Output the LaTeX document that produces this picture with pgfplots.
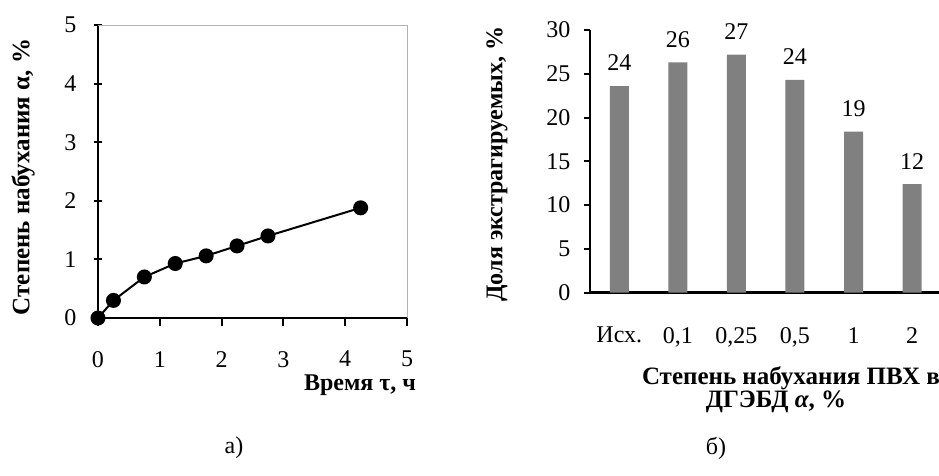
\documentclass[border=0pt]{standalone}
\usepackage{fontspec}
\setmainfont{Liberation Serif}
\usepackage{pgfplots}
\pgfplotsset{compat=1.18}
\begin{document}
\begin{tikzpicture}[x=1pt,y=1pt]
\useasboundingbox (0,0) rectangle (939,476);
\fill[white] (0,0) rectangle (939,476);
% ---------- left chart ----------
\begin{axis}[
  at={(98pt,158pt)}, anchor=south west,
  scale only axis, width=309pt, height=293pt,
  xmin=0, xmax=5, ymin=0, ymax=5,
  xtick={0,1,2,3,4,5}, ytick={0,1,2,3,4,5},
  axis x line*=bottom, axis y line*=left,
  axis line style={black, line width=2.5pt, -},
  tick style={black, line width=2pt},
  major tick length=8pt,
  xtick align=outside, ytick align=center,
  tick label style={font=\fontsize{24}{26}\selectfont},
  xticklabel style={inner sep=0pt, yshift=-25pt},
  yticklabel style={xshift=-14pt},
  /pgf/number format/assume math mode=true,
  clip=false,
]
\draw[gray!60, line width=0.8pt] (rel axis cs:0,1) -- (rel axis cs:1,1) -- (rel axis cs:1,0);
\addplot[black, line width=2pt, mark=*, mark size=6.5pt, mark options={fill=black}]
  coordinates {(0,0) (0.25,0.3) (0.75,0.7) (1.25,0.93) (1.75,1.06) (2.25,1.23) (2.75,1.4) (4.25,1.88)};
\end{axis}
% ---------- right chart ----------
\begin{axis}[
  at={(590pt,183.3pt)}, anchor=south west,
  scale only axis, width=349pt, height=262.7pt,
  xmin=-0.5, xmax=5.46, ymin=0, ymax=30,
  ytick={0,5,10,15,20,25,30},
  xtick={0,1,2,3,4,5},
  xticklabels={Исх.,{0,1},{0,25},{0,5},1,2},
  axis x line*=bottom, axis y line*=left,
  axis line style={black, line width=2.5pt, -},
  x tick style={draw=none},
  y tick style={black, line width=2pt},
  major tick length=6pt,
  ytick align=outside,
  tick label style={font=\fontsize{24}{26}\selectfont},
  xticklabel style={yshift=-25pt},
  yticklabel style={xshift=-10pt},
  /pgf/number format/assume math mode=true,
  ybar, bar width=19pt,
  point meta=explicit symbolic,
  nodes near coords,
  every node near coord/.append style={font=\fontsize{24}{26}\selectfont, anchor=center, yshift=23pt},
  clip=false,
]
\addplot[fill=black!50, draw=none] table[meta=lbl] {
x y lbl
0 23.6 24
1 26.3 26
2 27.2 27
3 24.3 24
4 18.4 19
5 12.4 12
};
\end{axis}
% ---------- labels ----------
\node[rotate=90, font=\bfseries\fontsize{25}{27}\selectfont] at (23,299) {Степень набухания α, \%};
\node[font=\bfseries\fontsize{24}{26}\selectfont, inner sep=0pt] at (360,91) {Время τ, ч};
\node[rotate=90, font=\bfseries\fontsize{24}{26}\selectfont] at (497,312) {Доля экстрагируемых, \%};
\node[font=\bfseries\fontsize{25}{27}\selectfont] at (791,98) {Степень набухания ПВХ в};
\node[font=\bfseries\fontsize{25}{27}\selectfont] at (776,74) {ДГЭБД \textit{α}, \%};
\node[font=\fontsize{24}{26}\selectfont] at (234,28) {а)};
\node[font=\fontsize{24}{26}\selectfont] at (716,28) {б)};
\end{tikzpicture}
\end{document}
